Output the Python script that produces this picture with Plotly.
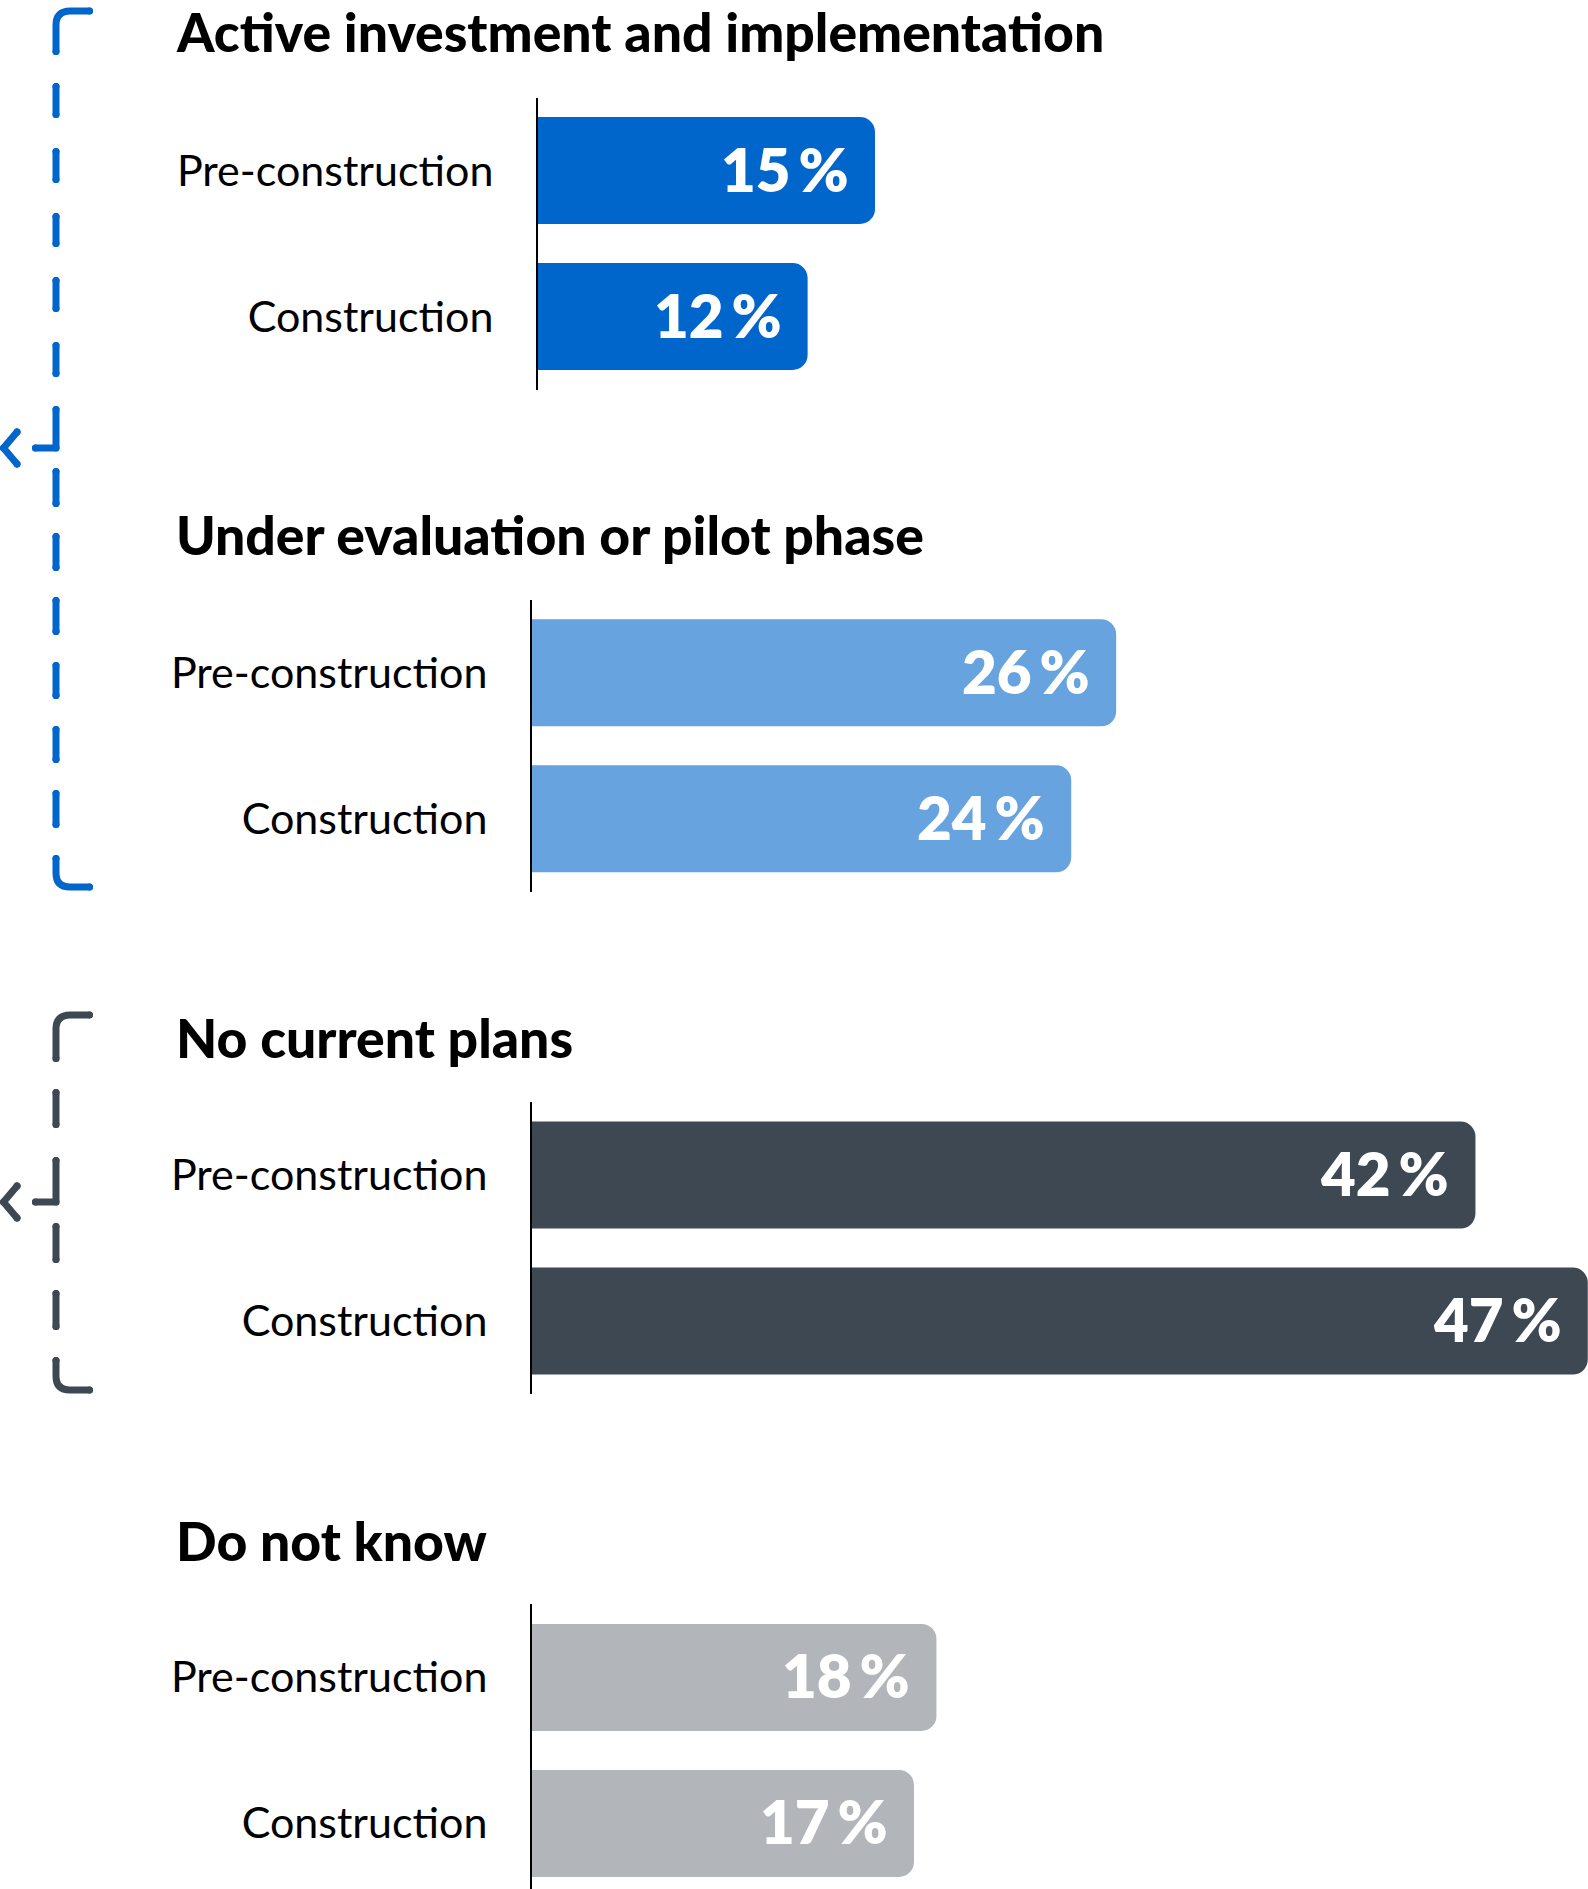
import plotly.graph_objects as go

# ---------------- data ----------------
groups = [
    "Active investment and implementation",
    "Under evaluation or pilot phase",
    "No current plans",
    "Do not know",
]
categories = ["Pre-construction", "Construction"]
active_vals = [15, 12]
evaluation_vals = [26, 24]
no_plans_vals = [42, 47]
do_not_know_vals = [18, 17]
series = [active_vals, evaluation_vals, no_plans_vals, do_not_know_vals]

colors = ["#0066CC", "#66A3DF", "#3D4852", "#B2B5B9"]

# ---------------- layout geometry (pixels) ----------------
W, H = 1588, 1889
PANEL_STEP = 502.3
CAT = 146
FIRST_CENTER = 170.5
axis_px = [538, 532, 532, 532]
X_MAX = 47.0
px_per_unit = (W - 532) / X_MAX


def ppx(v):
    return v / W


def ppy(v):
    return 1 - v / H


fig = go.Figure()
layout_axes = {}
annotations = []

for k in range(4):
    sfx = "" if k == 0 else str(k + 1)
    c0 = FIRST_CENTER + k * PANEL_STEP
    top = c0 - CAT / 2
    bottom = min(top + 2 * CAT, H)
    ymax = -0.5 + (bottom - top) / CAT
    ypos = list(range(len(categories)))
    fig.add_trace(go.Bar(
        x=series[k], y=ypos, orientation="h", width=0.733,
        marker=dict(color=colors[k], line=dict(width=0)),
        xaxis="x" + sfx, yaxis="y" + sfx, hoverinfo="skip", showlegend=False,
    ))
    xmax = max((W - axis_px[k]) / px_per_unit, max(series[k]) + 0.01)
    layout_axes["xaxis" + sfx] = dict(
        domain=[ppx(axis_px[k]), 1], range=[0, xmax], visible=False,
        anchor="y" + sfx, fixedrange=True,
    )
    layout_axes["yaxis" + sfx] = dict(
        domain=[ppy(bottom), ppy(top)], range=[ymax, -0.5], anchor="x" + sfx,
        tickmode="array", tickvals=ypos, ticktext=categories,
        showline=True, linecolor="black", linewidth=2,
        showgrid=False, zeroline=False, ticks="", ticklabelstandoff=34,
        tickfont=dict(family="Lato", size=43, color="black"),
        automargin=False, fixedrange=True,
    )
    # group title
    annotations.append(dict(
        x=ppx(174), y=ppy(31.5 + k * 502.8), xref="paper", yref="paper",
        xanchor="left", yanchor="middle", showarrow=False, text=groups[k],
        font=dict(family="Lato Black, Lato", size=53.5, color="black", weight=900),
    ))
    # value labels
    for i, v in enumerate(series[k]):
        annotations.append(dict(
            x=v, y=i, xref="x" + sfx, yref="y" + sfx, xanchor="right",
            yanchor="middle", xshift=-24, yshift=2, showarrow=False,
            text=f"{v}<span style='font-size:34px'> </span>%",
            font=dict(family="Lato", size=60, color="white", weight=800),
        ))

# ---------------- brackets ----------------
shapes = []
LW = 7


def P(x, y):
    return f"{ppx(x):.6f},{ppy(y):.6f}"


def cap(x, y, color):
    r = LW / 2
    shapes.append(dict(type="circle", xref="paper", yref="paper",
                       x0=ppx(x - r), x1=ppx(x + r), y0=ppy(y + r), y1=ppy(y - r),
                       fillcolor=color, line=dict(width=0), layer="above"))


def add_path(d, color, ends):
    shapes.append(dict(type="path", path=d, xref="paper", yref="paper",
                       line=dict(color=color, width=LW), fillcolor="rgba(0,0,0,0)",
                       layer="above"))
    for (x, y) in ends:
        cap(x, y, color)


def vdash(a, b, color):
    add_path(f"M{P(56, a + 3.5)} L{P(56, b - 3.5)}", color,
             [(56, a + 3.5), (56, b - 3.5)])


def bracket(color, y_top, y_top_end, dashes_a, joint_start, y_arrow, dashes_b, y_bot_start, y_bot):
    add_path(f"M{P(89.5, y_top)} L{P(70, y_top)} Q{P(56, y_top)} {P(56, y_top + 14)} L{P(56, y_top_end - 3.5)}",
             color, [(89.5, y_top), (56, y_top_end - 3.5)])
    for a, b in dashes_a:
        vdash(a, b, color)
    add_path(f"M{P(56, joint_start + 3.5)} L{P(56, y_arrow)} L{P(35.5, y_arrow)}",
             color, [(56, joint_start + 3.5), (56, y_arrow), (35.5, y_arrow)])
    add_path(f"M{P(17, y_arrow - 16)} L{P(3.5, y_arrow)} L{P(17, y_arrow + 16)}",
             color, [(17, y_arrow - 16), (3.5, y_arrow), (17, y_arrow + 16)])
    for a, b in dashes_b:
        vdash(a, b, color)
    add_path(f"M{P(56, y_bot_start + 3.5)} L{P(56, y_bot - 14)} Q{P(56, y_bot)} {P(70, y_bot)} L{P(89.5, y_bot)}",
             color, [(56, y_bot_start + 3.5), (89.5, y_bot)])


bracket("#0066CC", 11, 55,
        [(83, 118), (148, 183), (213, 247), (277, 312), (342, 377)],
        406, 448,
        [(468, 507), (533, 571), (597, 635), (662, 699), (726, 763), (790, 828)],
        855, 887)
bracket("#3D4852", 1015, 1062,
        [(1089, 1128)],
        1157, 1202,
        [(1223, 1263), (1290, 1330)],
        1357, 1390)

fig.update_layout(
    width=W, height=H,
    margin=dict(l=0, r=0, t=0, b=0, pad=0),
    paper_bgcolor="white", plot_bgcolor="white",
    barcornerradius=15,
    showlegend=False,
    annotations=annotations,
    shapes=shapes,
    font=dict(family="Lato"),
    **layout_axes,
)

post = ("document.body.style.margin='0';document.body.style.padding='0';"
        "document.body.style.overflow='hidden';"
        "document.querySelectorAll('.shapelayer path').forEach(function(p){"
        "p.style.strokeLinecap='round';p.style.strokeLinejoin='round';});")
fig.write_html("out.html", post_script=post, config={"displayModeBar": False})
